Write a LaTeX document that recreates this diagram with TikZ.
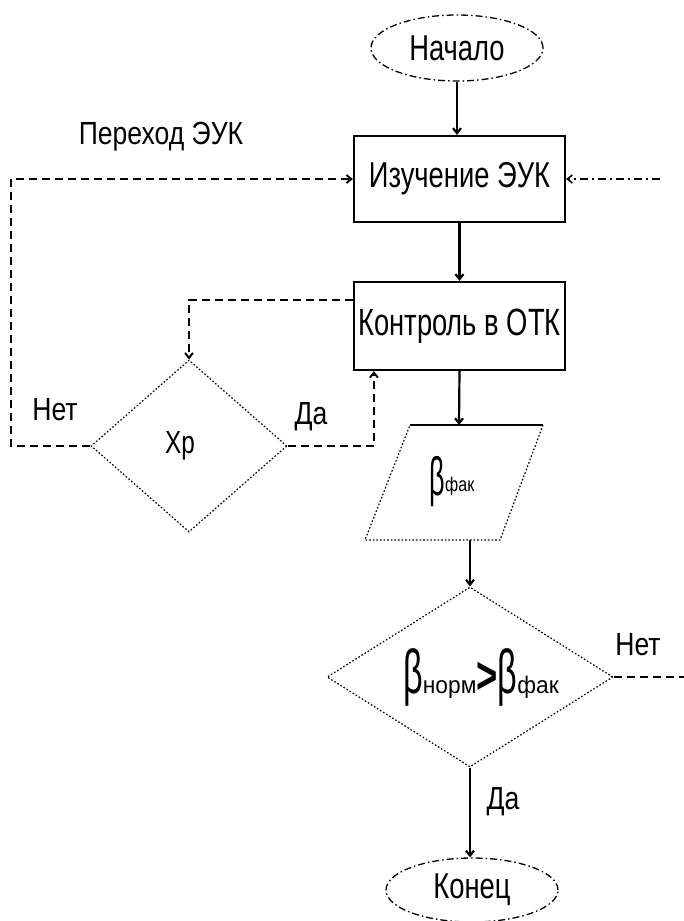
\documentclass[tikz,border=0pt]{standalone}
\usepackage{fontspec}
\setmainfont{Liberation Sans}
\usetikzlibrary{shapes.geometric,arrows.meta,calc}
\newcommand{\nr}[2][0.76]{\scalebox{#1}[1]{#2}}
\begin{document}
\begin{tikzpicture}[x=1pt,y=-1pt,
  solidln/.style={line width=2.2pt},
  arr/.style={-{Straight Barb[length=5pt,width=8pt]}},
  dsh/.style={line width=1.9pt, dash pattern=on 8pt off 5pt},
  dashdotln/.style={line width=1.5pt, dash pattern=on 8pt off 4pt on 2pt off 4pt},
  dotln/.style={line width=1.2pt, dash pattern=on 1.6pt off 2pt},
  ovalbox/.style={ellipse, draw, line width=1.3pt, dash pattern=on 7pt off 3pt on 1.5pt off 3pt, inner sep=0pt},
  procbox/.style={draw, solidln, inner sep=0pt},
  decbox/.style={diamond, draw, dotln, inner sep=0pt},
  txt/.style={font=\fontsize{36}{42}\selectfont, inner sep=0pt},
  lbl/.style={font=\fontsize{32}{38}\selectfont, inner sep=0pt}
]
\useasboundingbox (0,0) rectangle (684,921);

% terminals
\node[ovalbox, minimum width=172pt, minimum height=66pt] (start) at (457,48) {};
\node[txt] at (start) {\nr{Начало}};
\node[ovalbox, minimum width=172pt, minimum height=64pt] (end) at (472,890) {};
\node[txt] at (end) {\nr{Конец}};

% processes
\node[procbox, minimum width=211pt, minimum height=86pt] (study) at (459.5,179) {};
\node[txt] at (study) {\nr{Изучение ЭУК}};
\node[procbox, minimum width=211pt, minimum height=88pt] (control) at (459.5,326) {};
\node[txt, font=\fontsize{38}{44}\selectfont] at (control) {\nr[0.72]{Контроль в ОТК}};

% data parallelogram
\coordinate (dtl) at (410,425);
\coordinate (dtr) at (543,425);
\coordinate (dbr) at (500,540);
\coordinate (dbl) at (365,540);
\coordinate (dtop) at (459,425);
\coordinate (dbot) at (470,540);
\draw[solidln] (dtl) -- (dtr);
\draw[dotln] (dtr) -- (dbr) -- (dbl) -- (dtl);
\node[inner sep=0pt] (data) at (452,482) {{\fontsize{54}{54}\selectfont\nr[0.5]{β}}\raisebox{4pt}{\fontsize{20}{20}\selectfont\nr[0.8]{фак}}};

% decisions
\node[decbox, minimum width=196pt, minimum height=172pt] (dec1) at (189,446) {};
\node[font=\fontsize{32}{38}\selectfont, inner sep=0pt] at (180,446) {\nr{Хр}};
\node[decbox, minimum width=286pt, minimum height=180pt] (dec2) at (470,677) {};
\node[inner sep=0pt] (cond) at (481,677) {{\fontsize{62}{62}\selectfont\nr[0.55]{β}}{\fontsize{24}{24}\selectfont\nr[0.95]{норм}}{\fontsize{52}{52}\selectfont\nr[0.7]{\textbf{>}}}{\fontsize{62}{62}\selectfont\nr[0.55]{β}}{\fontsize{24}{24}\selectfont\nr[0.95]{фак}}};

% main flow
\draw[solidln, arr] (start.south) -- (start.south |- study.north);
\draw[solidln, arr] (study.south) -- (control.north);
\draw[solidln, arr] (control.south) -- (dtop);
\draw[solidln, arr] (dbot) -- (dec2.north);
\draw[solidln, arr] (dec2.south) -- (dec2.south |- end.north);

% dec2 "no" exit
\coordinate (nout) at (684,677);
\draw[dsh] (dec2.east) -- (nout);
\node[lbl] at (638,645) {\nr[0.83]{Нет}};
\node[lbl] at (503,802) {\nr[0.83]{Да}};

% return into study from the right
\coordinate (rin) at (660,179);
\draw[dashdotln, arr] (rin) -- (study.east);

% control -> dec1
\coordinate (cl) at ($(control.north west)+(0,19)$);
\draw[dsh, arr] (cl) -| (dec1.north);

% dec1 no -> study
\draw[dsh, arr] (dec1.west) -- ++(-79,0) |- (study.west);
\node[lbl] at (161,137) {\nr[0.83]{Переход ЭУК}};
\node[lbl] at (55,410) {\nr[0.83]{Нет}};

% dec1 yes -> control
\coordinate (cb) at ($(control.south west)+(21,0)$);
\draw[dsh, arr] (dec1.east) -| (cb);
\node[lbl] at (311,417) {\nr[0.83]{Да}};
\end{tikzpicture}
\end{document}
